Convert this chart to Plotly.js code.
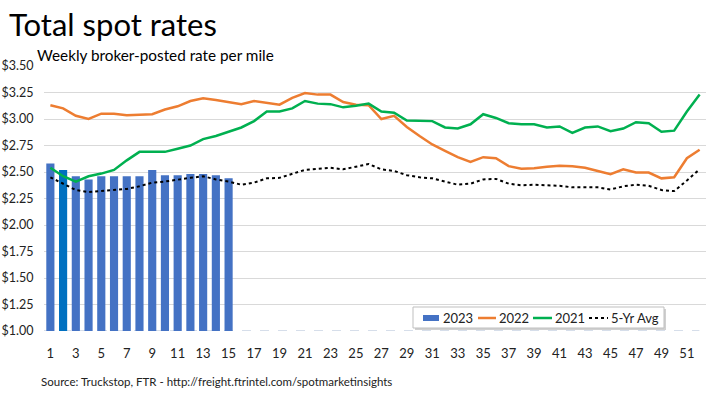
<!DOCTYPE html>
<html><head><meta charset="utf-8">
<script src="https://cdn.plot.ly/plotly-3.0.1.min.js"></script>
<style>html,body{margin:0;padding:0;background:#fff;}#c{width:711px;height:396px;}</style>
</head><body><div id="c"></div>
<script>
const weeks = Array.from({length: 52}, (_, i) => i + 1);
const weeks2023 = [1,2,3,4,5,6,7,8,9,10,11,12,13,14,15];
const rate2023 = [2.58,2.52,2.46,2.43,2.46,2.46,2.46,2.46,2.52,2.47,2.47,2.48,2.48,2.47,2.44];
const rate2022 = [3.13,3.10,3.03,3.00,3.05,3.05,3.035,3.04,3.045,3.09,3.12,3.17,3.195,3.18,3.16,
  3.14,3.17,3.155,3.135,3.20,3.245,3.23,3.23,3.16,3.135,3.13,3.00,3.03,2.925,2.84,2.76,2.70,2.64,2.595,
  2.64,2.63,2.555,2.53,2.535,2.55,2.56,2.555,2.54,2.51,2.48,2.525,2.495,2.495,2.44,2.45,2.63,2.71];
const rate2021 = [2.54,2.46,2.41,2.46,2.485,2.52,2.61,2.69,2.69,2.69,2.72,2.75,2.81,2.84,2.88,
  2.92,2.98,3.07,3.07,3.10,3.17,3.145,3.14,3.11,3.125,3.145,3.07,3.06,2.985,2.985,2.98,2.92,2.91,2.95,
  3.045,3.01,2.96,2.95,2.95,2.92,2.93,2.87,2.92,2.93,2.885,2.91,2.97,2.96,2.88,2.89,3.07,3.23];
const avg5yr = [2.45,2.39,2.33,2.31,2.32,2.33,2.34,2.365,2.40,2.41,2.43,2.445,2.46,2.43,2.41,
  2.38,2.40,2.44,2.445,2.485,2.52,2.53,2.54,2.525,2.55,2.575,2.525,2.51,2.47,2.45,2.44,2.41,2.38,2.39,
  2.43,2.435,2.39,2.375,2.38,2.375,2.37,2.355,2.355,2.355,2.335,2.365,2.38,2.37,2.33,2.32,2.42,2.525];
const xTicks = [1,3,5,7,9,11,13,15,17,19,21,23,25,27,29,31,33,35,37,39,41,43,45,47,49,51];
const yTicks = [1.00,1.25,1.50,1.75,2.00,2.25,2.50,2.75,3.00,3.25,3.50];
const yTickText = yTicks.map(v => '$' + v.toFixed(2));
const seriesNames = ['2023','2022','2021','5-Yr Avg'];
const seriesColors = ['#4472C4','#ED7D31','#00B050','#000000'];
const barColors = weeks2023.map(w => w === 2 ? '#0070C0' : '#4472C4');

const FONT = 'Lato, "Open Sans", sans-serif';
const W = 711, H = 396, ML = 44, MR = 5, MT = 66, MB = 65;
const PW = W - ML - MR, PH = H - MT - MB;
const px = x => (x - ML) / PW;          // pixel -> paper x
const py = y => (H - MB - y) / PH;      // pixel -> paper y

const data = [
  {type:'bar', name:seriesNames[0], x:weeks2023, y:rate2023, marker:{color:barColors}},
  {type:'scatter', mode:'lines', name:seriesNames[1], x:weeks, y:rate2022, line:{color:seriesColors[1], width:2.5}},
  {type:'scatter', mode:'lines', name:seriesNames[2], x:weeks, y:rate2021, line:{color:seriesColors[2], width:2.5}},
  {type:'scatter', mode:'lines', name:seriesNames[3], x:weeks, y:avg5yr, line:{color:seriesColors[3], width:2, dash:'dot'}}
];

// manual compact legend
const legShapes = [
  {type:'rect', xref:'paper', yref:'paper', x0:px(415), x1:px(666), y0:py(330), y1:py(309),
    fillcolor:'#D0D0D0', line:{width:0}, layer:'above'},
  {type:'rect', xref:'paper', yref:'paper', x0:px(413), x1:px(664), y0:py(328), y1:py(307),
    fillcolor:'#FFFFFF', line:{color:'#BFBFBF', width:1}, layer:'above'},
  {type:'rect', xref:'paper', yref:'paper', x0:px(423), x1:px(439), y0:py(321), y1:py(315),
    fillcolor:seriesColors[0], line:{width:0}, layer:'above'},
  {type:'line', xref:'paper', yref:'paper', x0:px(478), x1:px(496), y0:py(318), y1:py(318),
    line:{color:seriesColors[1], width:2.5}, layer:'above'},
  {type:'line', xref:'paper', yref:'paper', x0:px(533), x1:px(552), y0:py(318), y1:py(318),
    line:{color:seriesColors[2], width:2.5}, layer:'above'},
  {type:'line', xref:'paper', yref:'paper', x0:px(589), x1:px(608), y0:py(318), y1:py(318),
    line:{color:seriesColors[3], width:2, dash:'dot'}, layer:'above'}
];
const legTextX = [441, 497, 553, 609];
const legAnn = seriesNames.map((n, i) => ({
  text:n, xref:'paper', yref:'paper', x:px(legTextX[i]), y:py(318), xanchor:'left', yanchor:'middle',
  showarrow:false, font:{size:13, color:'#222', family:FONT}
}));

const layout = {
  width:W, height:H,
  margin:{l:ML, r:MR, t:MT, b:MB},
  paper_bgcolor:'#fff', plot_bgcolor:'#fff',
  font:{family:FONT, color:'#222', size:13},
  bargap:0.36,
  showlegend:false,
  xaxis:{range:[0.5,52.5], tickmode:'array', tickvals:xTicks, ticktext:xTicks.map(String),
    showgrid:false, zeroline:false, showline:false, ticks:'outside', ticklen:10, tickcolor:'rgba(0,0,0,0)',
    tickfont:{size:13, color:'#222'}},
  yaxis:{range:[1,3.5], tickmode:'array', tickvals:yTicks, ticktext:yTickText,
    showgrid:true, gridcolor:'#D9D9D9', gridwidth:1, zeroline:false, showline:false,
    ticks:'outside', ticklen:7, tickcolor:'rgba(0,0,0,0)', tickfont:{size:12.5, color:'#222'}},
  shapes:[{type:'line', xref:'paper', yref:'y', x0:0, x1:0.99, y0:1, y1:1,
    line:{color:'#C9D3E3', width:1.5, dash:'dash'}, layer:'below'}].concat(legShapes),
  annotations:[
    {text:'Total spot rates', xref:'paper', yref:'paper', x:0, y:1, xanchor:'left', yanchor:'top',
      xshift:-37, yshift:63, showarrow:false, font:{size:31, color:'#000', family:FONT}},
    {text:'Weekly broker-posted rate per mile', xref:'paper', yref:'paper', x:0, y:1, xanchor:'left', yanchor:'bottom',
      xshift:-9, yshift:0, showarrow:false, font:{size:15.3, color:'#000', family:FONT}},
    {text:'Source: Truckstop, FTR - http://freight.ftrintel.com/spotmarketinsights', xref:'paper', yref:'paper',
      x:0, y:0, xanchor:'left', yanchor:'top', xshift:-5, yshift:-42, showarrow:false,
      font:{size:11.5, color:'#222', family:FONT}}
  ].concat(legAnn)
};
Plotly.newPlot('c', data, layout, {displayModeBar:false, staticPlot:true});
</script></body></html>
